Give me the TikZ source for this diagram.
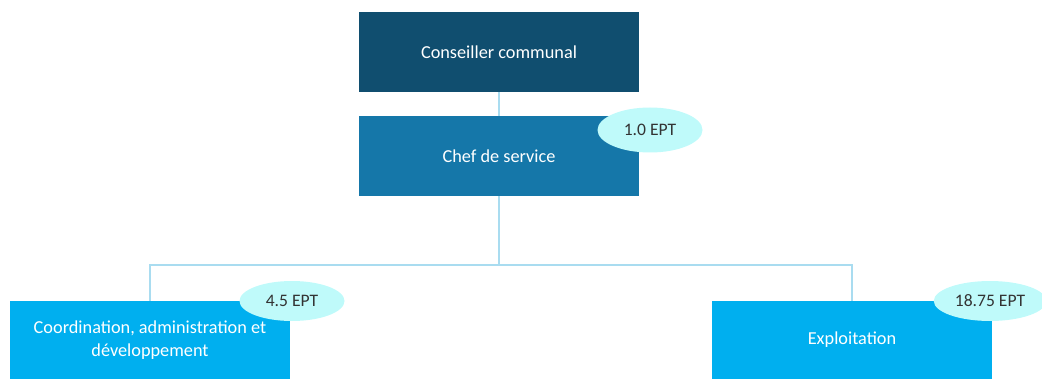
\documentclass[tikz,border=0pt]{standalone}
\usepackage{fontspec}
\setmainfont{Carlito}
\definecolor{navy}{HTML}{104E6F}
\definecolor{midblue}{HTML}{1577A9}
\definecolor{skyblue}{HTML}{00AFEF}
\definecolor{wire}{HTML}{A9DCF0}
\definecolor{bubble}{HTML}{BFFAFA}
\tikzstyle{unit}=[shape=rectangle,minimum width=7cm,minimum height=2cm,text=white,align=center,font=\fontsize{13}{16}\selectfont]
\tikzstyle{fte}=[shape=ellipse,fill=bubble,text=black!80,minimum width=2.625cm,font=\fontsize{12.5}{14}\selectfont]
\usetikzlibrary{shapes.geometric}

\begin{document}
\begin{tikzpicture}
        \useasboundingbox (0,0) rectangle (26.05,-9.475);
        % units
        \node[unit,fill=navy] (cc) at (12.475,-1.3) {Conseiller communal};
        \node[unit,fill=midblue] (chef) at (12.475,-3.9) {Chef de service};
        \node[unit,fill=skyblue,minimum height=1.95cm] (coord) at (3.75,-8.5) {Coordination, administration et\\d\'eveloppement};
        \node[unit,fill=skyblue,minimum height=1.95cm] (expl) at (21.3,-8.5) {Exploitation};
        % links
        \coordinate (bus) at (12.475,-6.625);
        \draw [wire,line width=1.2pt] (cc) -- (chef);
        \draw [wire,line width=1.2pt] (chef) -- (bus);
        \draw [wire,line width=1.2pt] (bus) -| (coord);
        \draw [wire,line width=1.2pt] (bus) -| (expl);
        % staff
        \node[fte,minimum height=1.125cm] (f0) at (16.25,-3.25) {1.0 EPT};
        \node[fte,minimum height=1cm] (f1) at (7.3,-7.525) {4.5 EPT};
        \node[fte,minimum height=1cm] (f2) at (24.75,-7.525) {18.75 EPT};
    \end{tikzpicture}
\end{document}
